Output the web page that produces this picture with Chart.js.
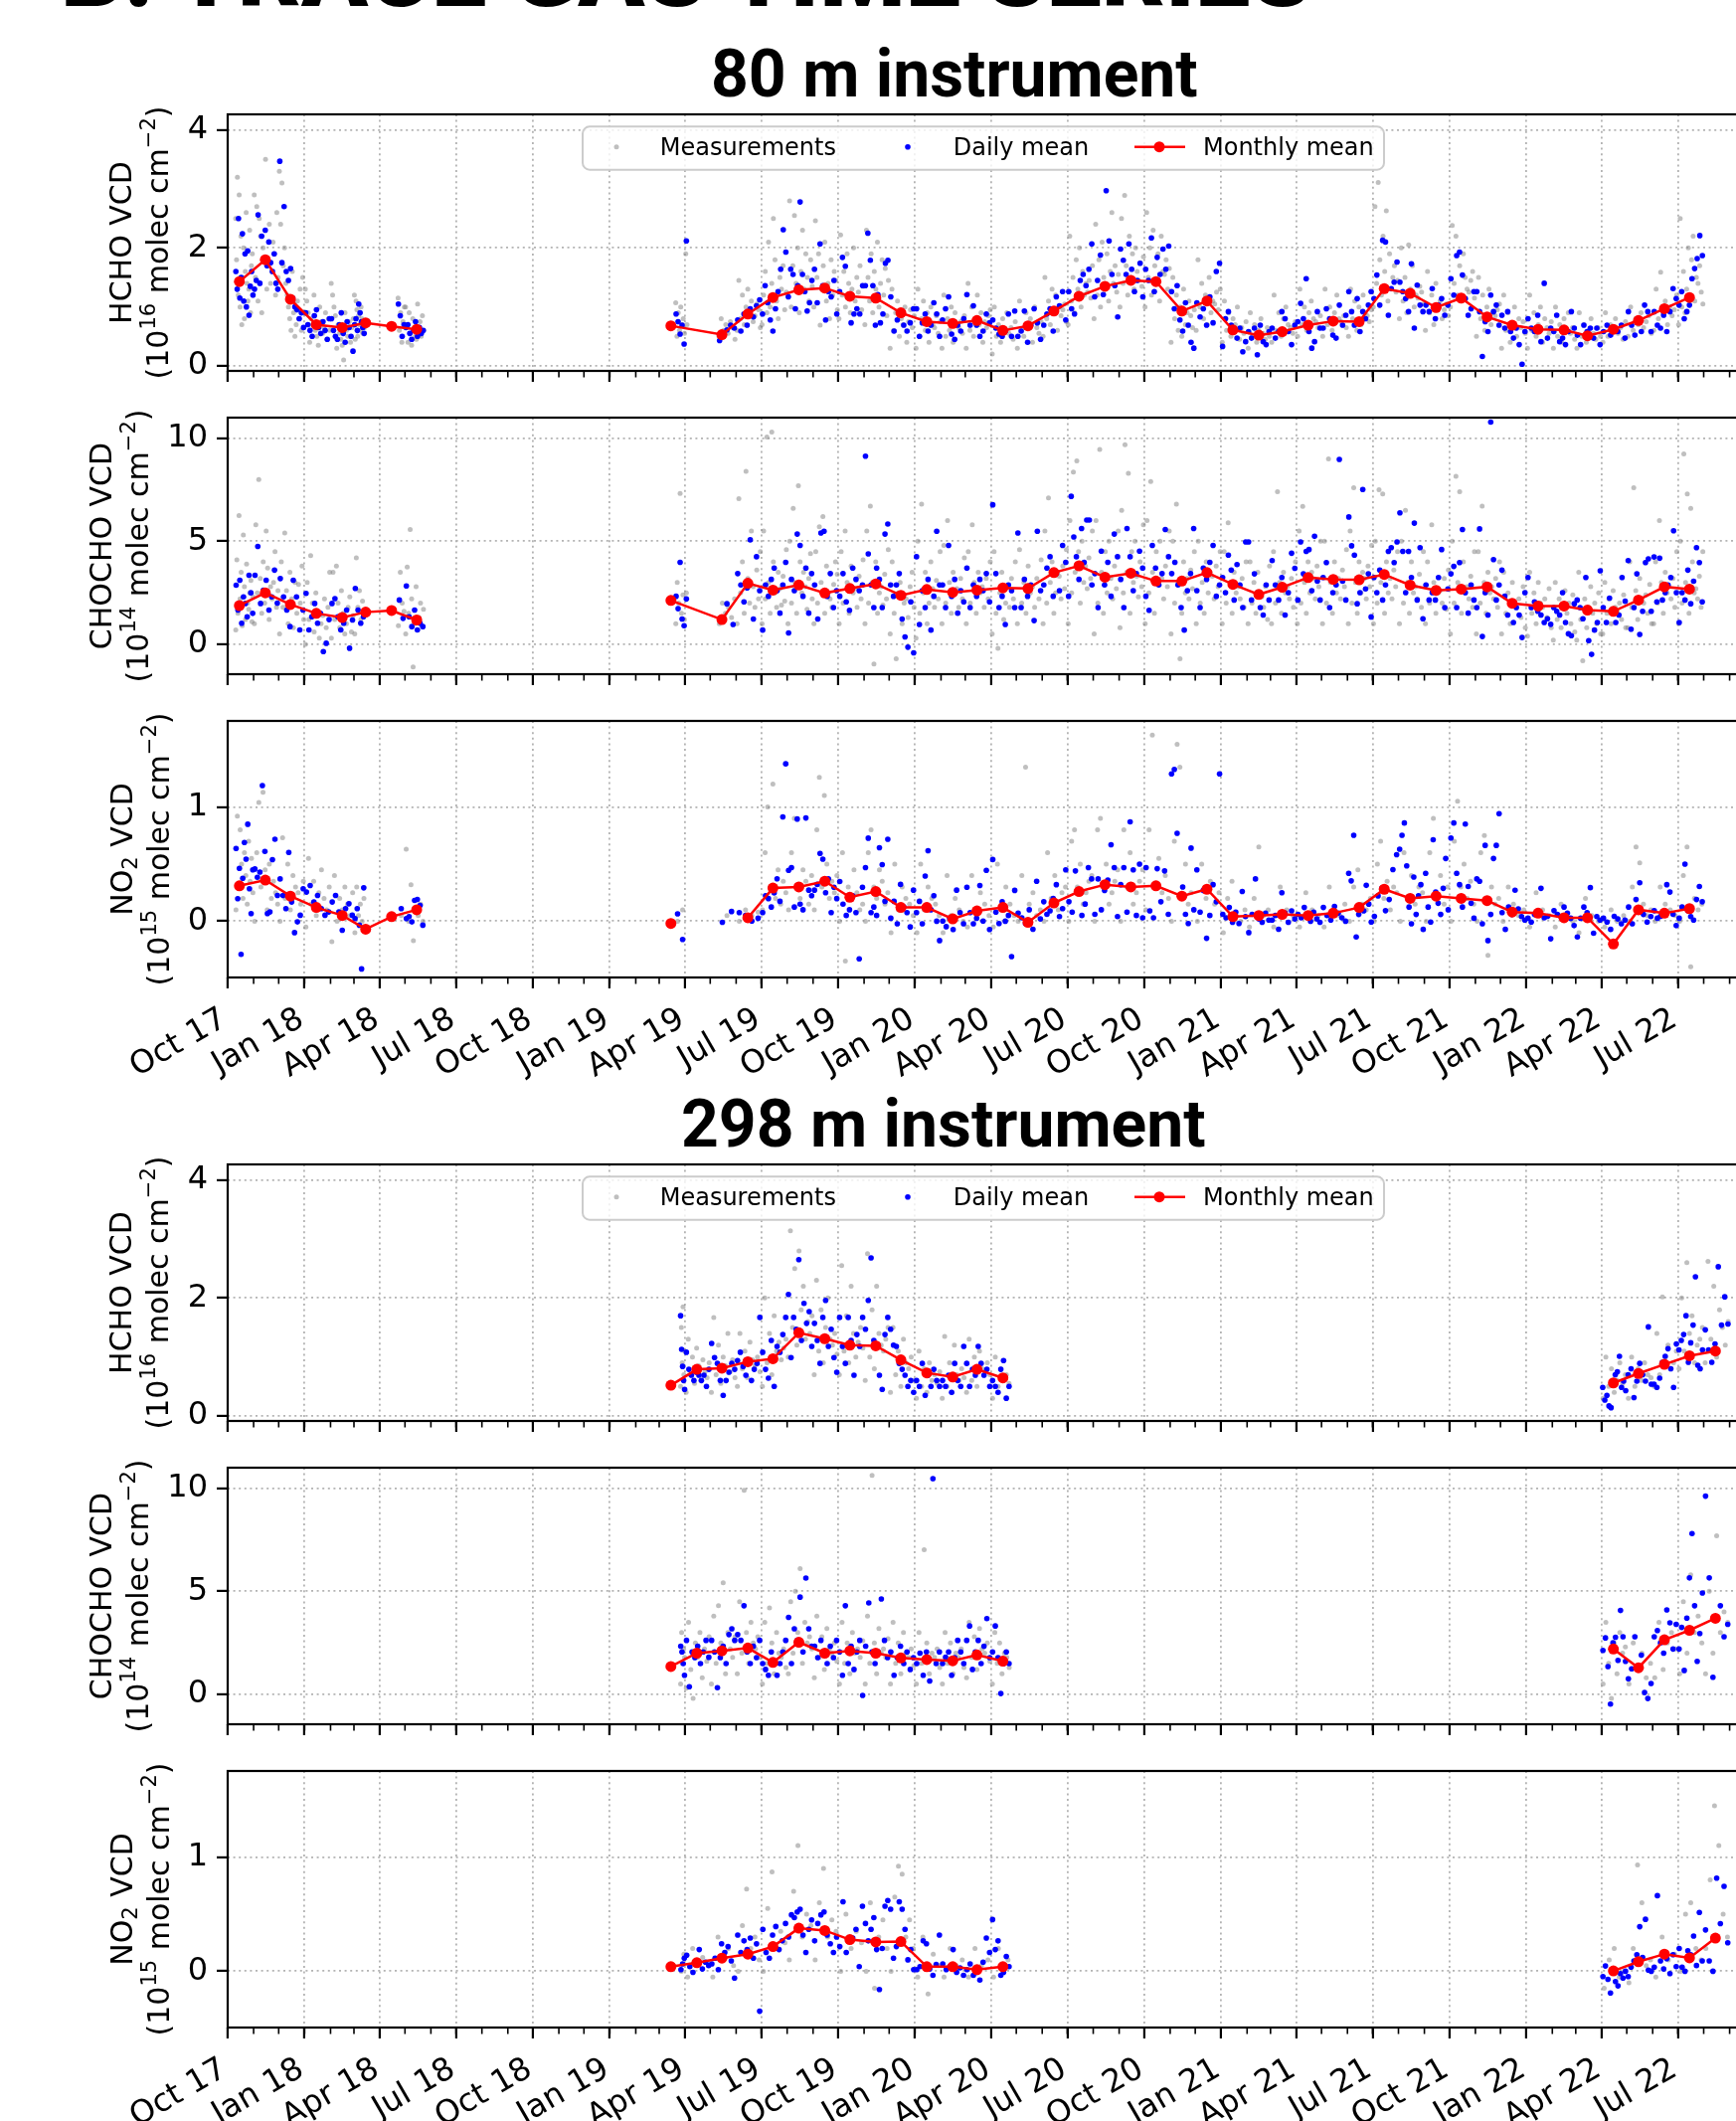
<!DOCTYPE html>
<html>
<head>
<meta charset="utf-8">
<title>Trace gas time series</title>
<script src="https://cdn.jsdelivr.net/npm/chart.js@4.4.1/dist/chart.umd.min.js"></script>
<style>
  html, body { margin: 0; padding: 0; background: #fff; }
  body { width: 1746px; height: 2133px; overflow: hidden; position: relative; }
  .head { position: absolute; white-space: nowrap; font-family: Roboto, sans-serif; color: #000; line-height: 1; }
  .head i { display: inline-block; width: 0; height: 0; }
  canvas { position: absolute; left: 0; }
</style>
</head>
<body>
<div class="head" id="sheet" style="font-weight:900;font-size:84px;">B. TRACE GAS TIME SERIES<i></i></div>
<div class="head" id="t80" style="font-weight:700;font-size:66px;">80 m instrument<i></i></div>
<div class="head" id="t298" style="font-weight:700;font-size:66px;">298 m instrument<i></i></div>
<script>
// ---- axis ticks ----
var tickMonths = ['2017-10','2018-01','2018-04','2018-07','2018-10','2019-01','2019-04','2019-07','2019-10','2020-01','2020-04',
  '2020-07','2020-10','2021-01','2021-04','2021-07','2021-10','2022-01','2022-04','2022-07'];
var tickLabels = ['Oct 17','Jan 18','Apr 18','Jul 18','Oct 18','Jan 19','Apr 19','Jul 19','Oct 19','Jan 20','Apr 20',
  'Jul 20','Oct 20','Jan 21','Apr 21','Jul 21','Oct 21','Jan 22','Apr 22','Jul 22'];
var hchoTicks = [0, 2, 4];
var chochoTicks = [0, 5, 10];
var no2Ticks = [0, 1];

// ---- 80 m instrument ----
// monthly means (plotted on the 15th), null = gap in the line
var months80 = ['2017-10','2017-11','2017-12','2018-01','2018-02','2018-03','2018-04','2018-05','2018-06',
  '2019-03','2019-05','2019-06','2019-07','2019-08','2019-09','2019-10','2019-11','2019-12',
  '2020-01','2020-02','2020-03','2020-04','2020-05','2020-06','2020-07','2020-08','2020-09','2020-10','2020-11','2020-12',
  '2021-01','2021-02','2021-03','2021-04','2021-05','2021-06','2021-07','2021-08','2021-09','2021-10','2021-11','2021-12',
  '2022-01','2022-02','2022-03','2022-04','2022-05','2022-06','2022-07'];
var hcho80Monthly = [1.43,1.80,1.13,0.70,0.65,0.73,0.67,0.62,null,
  0.68,0.53,0.88,1.16,1.29,1.32,1.18,1.15,0.90,
  0.75,0.72,0.77,0.60,0.68,0.93,1.18,1.35,1.45,1.43,0.93,1.10,
  0.61,0.52,0.58,0.69,0.76,0.75,1.31,1.23,0.99,1.15,0.83,0.69,
  0.62,0.61,0.51,0.62,0.77,0.97,1.16];
var chocho80Monthly = [1.88,2.50,1.93,1.50,1.30,1.56,1.64,1.18,null,
  2.13,1.20,2.96,2.63,2.88,2.49,2.71,2.93,2.38,
  2.66,2.52,2.63,2.74,2.71,3.48,3.81,3.26,3.45,3.07,3.07,3.48,
  2.91,2.42,2.77,3.24,3.15,3.13,3.39,2.87,2.62,2.68,2.79,1.99,
  1.86,1.86,1.66,1.60,2.15,2.79,2.68];
var no280Monthly = [0.31,0.36,0.22,0.12,0.05,-0.07,0.04,0.10,null,
  -0.02,null,0.03,0.29,0.30,0.35,0.21,0.26,0.12,
  0.12,0.02,0.09,0.12,-0.01,0.16,0.26,0.32,0.30,0.31,0.22,0.28,
  0.04,0.05,0.06,0.05,0.07,0.12,0.28,0.20,0.22,0.20,0.18,0.08,
  0.07,0.03,0.03,-0.20,0.10,0.07,0.11];

// observing periods: month, first day, last day (whole month when omitted)
var obs80 = [['2017-10',10,31],['2017-11'],['2017-12'],['2018-01'],['2018-02'],['2018-03',1,13],['2018-04',22,30],['2018-05',1,23],
  ['2019-03',20,31],['2019-04',1,3],['2019-05',10,31],['2019-06'],['2019-07'],['2019-08'],['2019-09'],['2019-10'],['2019-11'],['2019-12'],
  ['2020-01'],['2020-02'],['2020-03'],['2020-04'],['2020-05'],['2020-06'],['2020-07'],['2020-08'],['2020-09'],['2020-10'],['2020-11'],['2020-12'],
  ['2021-01'],['2021-02'],['2021-03'],['2021-04'],['2021-05'],['2021-06'],['2021-07'],['2021-08'],['2021-09'],['2021-10'],['2021-11'],['2021-12'],
  ['2022-01'],['2022-02'],['2022-03'],['2022-04'],['2022-05'],['2022-06'],['2022-07']];

// daily means, one row per observing period
var hcho80Daily = [
  [1.6,1.3,2.5,1.15,1.5,2.24,1.1,1.9,1.0,1.95,0.86,1.35,1.6,1.2],
  [1.3,1.45,2.56,1.4,2.2,1.8,2.3,1.7,2.1,1.75,1.6,1.9,1.4,1.3],
  [3.47,1.75,2.7,1.6,1.45,1.65,1.15,1.0,0.95,0.8,0.9,0.65],
  [0.9,0.7,0.6,0.5,0.85,0.95,0.65,0.55,0.75,0.6,0.45,0.8],
  [0.8,0.6,0.5,0.45,0.7,0.9,0.55,0.4,0.75,0.65,0.5,0.25],
  [0.7,0.8,0.6,1.05,0.9,0.75,0.65,0.55],
  [1.05,0.85,0.5,0.7],
  [0.65,0.7,0.55,0.45,0.6,0.75,0.5,0.65,0.55,0.6],
  [0.88,0.75,0.54,0.69,0.37],
  [2.12],
  [0.43,0.5,0.61,0.69,0.64],
  [0.78,0.59,0.88,0.69,0.97,0.83,1.02,1.12],
  [0.88,1.36,1.07,0.78,0.59,0.97,1.26,1.64,2.31,1.93],
  [1.17,1.64,1.55,0.97,1.36,2.78,1.55,1.26,0.93,1.07,1.45],
  [1.64,1.07,2.07,1.36,0.78,1.26,1.17,1.45,0.88],
  [1.26,1.84,1.69,1.17,0.73,0.88,0.97,0.88,1.36],
  [1.36,2.25,1.79,1.36,0.69,1.21,0.73,0.88,1.74,1.79],
  [1.17,0.59,0.78,0.88,0.69,0.59,0.73,0.97],
  [0.97,0.5,0.73,0.88,0.59,0.69,1.07,0.88,0.5],
  [0.78,0.97,1.17,0.54,0.45,0.69,0.59,0.8],
  [1.21,0.69,1.02,0.69,0.5,0.59,0.88,0.73],
  [0.78,0.64,0.54,0.5,0.59,0.88,0.5,0.93],
  [0.5,0.59,0.93,0.4,0.69,0.97,0.73,0.45],
  [0.69,0.88,0.97,0.59,1.17,1.02,1.26,0.78],
  [1.26,0.97,0.88,1.17,1.45,1.55,1.36,1.64,2.07],
  [1.17,1.45,1.88,1.21,2.97,2.12,1.55,1.36,0.83],
  [1.98,1.79,1.55,2.07,1.64,1.26,1.45,1.74,1.17],
  [1.64,1.45,2.17,1.26,1.84,1.55,1.98,1.64,2.03],
  [1.26,0.97,1.36,0.78,0.59,1.07,0.69,0.4,0.3],
  [1.07,0.83,0.97,0.69,1.17,0.73,1.6,1.74],
  [0.33,0.8,0.92,0.69,0.58,0.47,0.64,0.24,0.41],
  [0.58,0.47,0.64,0.19,0.69,0.41,0.36,0.58],
  [0.64,0.47,0.58,0.92,0.8,0.58,0.36,0.69],
  [0.75,1.06,0.8,1.48,0.58,0.3,0.41,0.92,0.64],
  [0.64,0.97,0.8,0.52,0.47,1.03,0.69,0.86],
  [1.26,0.92,0.69,1.14,0.58,0.92,0.8,1.03,1.26],
  [1.14,1.54,1.03,2.13,2.1,0.86,1.31,1.42,1.76],
  [1.42,1.26,1.14,0.92,1.73,0.64,1.37,1.03,0.92],
  [1.03,0.92,1.31,0.8,1.03,1.14,0.86,1.03],
  [1.48,1.2,1.87,1.93,1.54,1.14,0.86,0.97,1.26],
  [1.26,0.92,0.16,0.75,0.58,1.2,0.92,1.03,0.69],
  [0.86,0.64,0.92,0.58,0.47,0.64,0.36,0.03,0.58],
  [0.8,0.64,0.58,0.86,0.41,1.4,0.47,0.64],
  [0.58,0.86,0.41,0.47,0.36,0.58,0.92,0.64],
  [0.52,0.36,0.69,0.58,0.64,0.47,0.64,0.36],
  [0.58,0.69,0.52,0.64,0.58,0.69,0.47],
  [0.92,0.69,0.52,0.8,0.58,1.03,0.92,0.58],
  [0.92,0.69,0.64,0.86,0.58,0.92,1.31,1.14],
  [1.03,1.26,0.8,0.92,1.03,1.48,1.65,1.82,2.21,1.87]];
// single measurements
var hcho80Meas = [
  [2.5,1.8,3.2,1.2,2.9,1.0,2.2,0.7,1.5,2.0,0.8,1.6,2.6,1.4,1.1,1.3,2.3,0.9,1.7,1.9,1.2],
  [2.9,1.5,2.7,1.1,2.5,2.2,0.9,2.0,1.8,3.5,1.3,1.7,2.4,1.4,1.6,2.1,1.9,1.2,2.6,1.5],
  [3.3,2.4,3.1,1.7,2.0,1.4,1.2,1.0,0.8,0.6,1.6,0.9,0.5,0.7,1.1,0.8,1.3,0.6,1.5,0.9],
  [1.3,1.1,0.9,0.4,0.8,0.7,1.2,0.6,0.5,0.35,1.0,0.75,0.55,0.65,0.9,0.45,0.8,0.6],
  [1.4,1.2,1.0,0.85,0.3,0.7,0.55,0.45,0.35,0.1,0.9,0.6,0.5,0.75,0.4,0.65,0.8],
  [1.2,0.45,1.1,0.95,0.5,0.85,0.7,0.6,1.0,0.8,0.55,0.75,0.65],
  [1.15,0.6,0.9,0.4,0.75,1.0],
  [1.0,0.7,0.4,0.9,0.55,0.35,0.8,0.6,0.5,0.45,1.05,0.65,0.75,0.5,0.85,0.6],
  [1.07,0.5,0.9,0.6,1.0,0.7,0.8,0.55],
  [1.9,0.7],
  [0.5,0.8,0.6,0.7,0.55,0.75,0.65,0.45],
  [0.6,1.45,0.8,1.2,0.7,1.0,1.3,0.9,1.1,0.75,0.85,1.05,0.95,0.65],
  [0.7,1.2,1.6,0.9,2.1,1.0,1.4,2.5,1.8,1.1,0.8,1.5,1.3,1.7,0.95,1.25],
  [1.2,2.8,1.0,1.7,2.55,1.4,2.0,0.9,1.6,2.3,1.3,1.9,1.5,1.1,1.8,1.35],
  [1.0,2.46,1.5,1.9,0.69,1.3,1.7,2.1,1.1,1.4,0.8,1.8,1.2,1.6,1.45,0.95],
  [0.8,2.22,1.2,1.6,1.0,1.9,1.4,0.9,1.3,2.0,1.1,1.5,1.25,1.7,0.95,1.35],
  [0.7,2.3,1.5,1.1,1.9,0.9,1.6,1.3,2.1,1.0,1.4,1.8,1.2,1.65,0.85,1.45],
  [0.3,1.3,0.6,0.9,1.1,0.5,0.8,0.7,1.0,0.4,0.75,0.95,0.65,0.85],
  [0.3,1.3,0.5,0.8,1.1,0.6,0.9,0.4,1.0,0.7,0.65,0.85,0.55,0.75],
  [0.3,1.2,0.5,0.8,0.6,1.0,0.4,0.9,0.7,0.65,0.75,0.55,0.85],
  [0.3,1.4,0.6,1.0,0.5,0.8,1.2,0.7,0.9,0.4,0.75,0.65,0.85,0.95],
  [0.2,1.0,0.5,0.7,0.4,0.8,0.6,0.9,0.55,0.65,0.45,0.75],
  [0.3,1.1,0.6,0.5,0.9,0.7,0.8,0.4,1.0,0.65,0.55,0.75],
  [0.5,1.5,0.8,1.1,0.7,1.3,0.9,1.2,0.6,1.0,0.85,0.95,1.05,0.75],
  [0.7,2.2,1.1,1.5,0.9,1.8,1.3,2.0,1.0,1.6,1.2,1.4,1.25,1.45,1.15,1.7],
  [0.8,2.4,1.2,1.8,1.0,2.1,1.5,1.3,1.9,1.1,1.6,2.6,1.4,1.7,1.25,1.55],
  [1.0,2.5,1.4,2.89,1.7,1.2,2.2,1.5,1.9,1.3,2.0,1.6,1.45,1.75,1.35,1.85],
  [1.0,2.6,1.5,2.0,1.2,2.3,1.7,1.4,1.9,1.1,2.2,1.6,1.55,1.8,1.3,1.65],
  [0.4,1.5,0.8,1.2,0.6,1.0,0.5,1.3,0.7,0.9,1.1,0.85,0.65,0.95],
  [0.6,1.8,1.0,1.4,0.8,1.2,0.7,1.5,0.9,1.1,1.05,1.25,0.95,1.3],
  [0.4,1.1,0.6,0.9,0.5,0.8,0.7,1.0,0.45,0.65,0.55,0.75],
  [0.3,0.9,0.5,0.7,0.4,0.6,0.8,0.55,0.45,0.65,0.5],
  [0.4,1.2,0.6,0.9,0.5,0.8,1.0,0.7,0.65,0.55,0.75],
  [0.5,1.3,0.7,1.0,0.6,0.9,1.1,0.8,0.75,0.65,0.85],
  [0.5,1.3,0.7,1.0,0.6,0.9,1.2,0.8,0.75,0.85,0.65],
  [0.5,1.3,0.8,1.1,0.6,1.0,0.7,1.2,0.9,0.85,0.75,0.95],
  [1.0,2.7,1.4,3.11,1.8,1.2,2.2,1.6,2.63,1.1,1.9,1.3,1.5,1.7,1.25,1.45],
  [0.8,2.0,1.1,1.5,0.9,2.05,1.3,1.7,1.0,1.2,1.15,1.35,1.25,1.05],
  [0.6,1.6,0.9,1.2,0.7,1.4,1.0,1.1,0.8,0.95,1.05,0.85],
  [1.0,2.38,1.4,2.2,1.2,1.7,1.1,1.9,1.5,1.3,1.25,1.45,1.6,1.15],
  [0.5,1.5,0.8,1.2,0.6,1.0,1.3,0.7,0.9,0.85,0.95,1.05],
  [0.3,1.2,0.6,0.9,0.4,0.7,1.0,0.5,0.8,0.65,0.75,0.55],
  [0.3,1.2,0.6,0.9,0.5,0.7,1.0,0.4,0.8,0.65,0.55,0.75],
  [0.3,1.0,0.5,0.7,0.4,0.8,0.6,0.9,0.55,0.65,0.45],
  [0.3,0.9,0.5,0.7,0.4,0.6,0.8,0.55,0.45,0.65,0.5],
  [0.4,0.9,0.5,0.7,0.6,0.8,0.55,0.65,0.45,0.75],
  [0.5,1.0,0.6,0.8,0.7,0.9,0.65,0.75,0.85,0.55],
  [0.6,1.3,0.8,1.59,0.9,1.1,0.7,1.0,0.85,0.95,1.2],
  [0.7,2.5,1.0,1.6,0.9,1.3,2.0,1.2,1.8,2.2,1.1,1.5,1.4,1.7,1.25,1.05]];

var chocho80Daily = [
  [2.87,1.66,3.11,1.02,2.3,1.98,1.34,3.35,2.5,1.5],
  [3.35,4.75,1.98,2.63,3.11,1.66,2.3,3.6,2.0],
  [3.19,2.3,1.66,0.86,3.11,2.3,0.7,1.66],
  [2.47,0.7,1.34,1.98,1.02,1.5,-0.35,0.05,1.2],
  [1.98,2.22,1.34,0.7,1.02,1.66,-0.19,1.18],
  [2.71,1.66,1.02,1.34],
  [2.15,1.26],
  [2.83,1.34,0.86,1.66,0.7,1.02,0.86],
  [2.33,1.73,3.98,1.23,0.9],
  [2.2],
  [1.1,1.97,0.96],
  [3.43,2.88,2.06,2.74,5.07,1.23,4.25,2.6],
  [0.69,2.88,2.33,3.15,3.7,2.6,1.51,2.88,3.98],
  [0.55,3.15,2.6,5.35,4.8,2.33,3.7,1.51,3.43],
  [2.88,1.23,5.4,5.49,2.33,3.43,1.78,2.6],
  [2.33,3.43,2.06,1.65,3.7,3.15,2.6,2.88],
  [9.13,4.39,2.88,1.78,3.7,3.15,1.78,5.35,5.84],
  [2.88,2.33,2.88,3.43,1.23,0.36,-0.14,2.06,-0.41],
  [4.25,0.96,2.6,1.78,3.15,0.69,2.33,5.49,2.88],
  [2.88,1.78,4.8,2.33,3.15,1.51,2.6,2.06],
  [3.7,1.78,2.88,2.33,3.15,2.6,3.43,2.06],
  [6.77,3.43,1.78,2.33,0.96,2.88,2.6,1.78],
  [5.4,1.78,3.15,2.33,2.88,1.15,5.49,2.6],
  [2.88,3.7,4.25,2.33,3.43,2.6,4.8,3.98],
  [2.33,7.18,5.21,4.25,3.15,5.62,3.98,6.03,6.03,2.88],
  [3.43,1.78,4.52,2.88,3.98,2.33,5.35,4.25],
  [3.15,1.78,5.62,4.25,2.6,3.43,4.52,3.7],
  [2.33,1.65,4.8,3.7,2.88,3.43,5.57,4.25],
  [3.43,3.98,2.88,1.78,0.69,2.6,3.43,5.62],
  [2.6,1.78,3.7,3.15,3.98,4.8,2.33,2.88],
  [3.24,2.51,4.33,3.6,2.15,3.87,2.88,1.78,4.97],
  [4.97,2.15,3.42,2.51,1.78,1.42,2.88,2.15],
  [4.06,2.88,2.15,3.24,1.42,2.51,4.42,3.69],
  [2.15,4.97,3.42,4.51,4.6,2.6,5.24,3.06,2.15],
  [3.24,3.97,1.78,2.51,2.88,8.97,3.06,2.15],
  [6.18,4.78,4.33,1.97,2.51,7.51,2.69,3.42,1.33],
  [3.24,2.51,3.6,2.15,2.88,4.51,4.69,3.97,4.97],
  [6.38,4.51,2.51,4.51,3.24,5.88,2.15,4.69,1.24],
  [2.88,2.15,2.51,2.15,3.24,4.6,1.78,2.69],
  [3.42,3.78,1.78,3.97,5.57,2.51,1.51,2.88,2.15],
  [1.78,5.6,0.38,2.51,1.42,10.78,4.11,2.15,2.88],
  [3.6,2.33,1.42,2.06,1.06,1.78,1.42,0.33,2.51],
  [3.24,1.78,2.06,1.6,1.42,1.06,1.24,0.97],
  [1.78,1.6,1.42,2.51,1.06,0.51,0.42,1.97],
  [2.15,1.78,1.24,3.24,0.18,-0.49,0.69,1.06,3.57],
  [1.78,1.06,2.24,1.6,1.06,1.42,3.24,2.09],
  [4.06,0.73,1.78,3.42,0.48,1.6,3.97,4.15,1.6],
  [4.24,2.06,4.18,2.15,2.51,2.88,3.24,5.51,2.51],
  [1.06,2.51,2.15,3.6,1.97,3.06,4.69,3.97,2.06]];
var chocho80Meas = [
  [0.7,4.1,1.5,6.25,2.2,3.5,0.9,5.3,2.8,1.2,3.9,2.0,1.7,2.5,3.1,1.1,2.3],
  [1.0,5.8,2.5,8.0,3.2,1.5,4.0,2.0,5.5,3.7,1.2,2.8,2.2,3.0,4.5,1.8,2.6],
  [0.5,4.0,1.8,5.4,2.6,1.0,3.5,2.2,0.8,3.0,1.5,2.9,2.0,3.8,1.2],
  [0.0,3.0,1.2,4.3,2.0,0.6,2.5,1.6,0.3,1.0,1.4,2.2,0.8,1.8,3.5],
  [0.3,3.5,1.2,3.8,2.0,0.8,2.6,1.5,0.5,1.0,1.8,2.3,0.6,1.4],
  [0.5,4.19,1.8,2.6,1.2,2.1,1.5],
  [0.9,3.5,2.0,1.6],
  [0.5,3.75,1.5,5.57,2.2,-1.1,1.0,2.8,0.7,1.3,2.0,0.9,1.7],
  [1.0,3.0,2.0,7.32,1.5,2.4,1.2],
  [2.5],
  [1.0,2.0,1.5,1.8,1.3,2.2],
  [1.0,7.07,2.5,4.0,1.5,8.4,3.2,2.0,5.5,2.8,1.8,3.6,2.2,4.5],
  [1.0,5.5,2.2,10.06,3.0,1.5,10.3,4.0,2.5,1.8,3.5,2.7,1.9,3.3,2.1,4.6],
  [1.0,5.0,2.0,6.6,3.0,1.5,7.7,4.0,2.5,3.5,2.8,1.7,3.2,4.4,2.2],
  [1.0,4.5,2.0,5.7,3.0,6.2,1.5,3.8,2.5,2.2,1.8,2.9,4.0,3.4],
  [1.0,4.5,2.0,5.5,3.0,1.5,3.8,2.5,2.7,1.8,3.3,2.2,4.1],
  [1.0,5.5,2.0,6.7,3.0,-0.96,4.0,1.5,2.5,2.8,1.9,3.4,2.2,4.6],
  [0.5,4.0,1.5,-0.7,2.5,3.0,1.0,2.0,2.2,1.3,2.8,3.5,1.8],
  [0.3,5.0,1.5,6.8,2.5,3.5,1.0,2.0,4.0,2.7,1.8,3.1,2.2,4.5],
  [1.0,4.8,2.0,6.0,3.0,1.5,3.5,2.5,2.7,1.8,3.2,2.2,4.2],
  [1.0,4.5,2.0,5.8,3.0,1.5,3.5,2.5,2.8,1.8,3.2,2.2,4.0],
  [0.5,4.5,1.5,-0.2,2.5,3.5,1.2,2.0,2.8,1.8,3.2,2.2,4.0],
  [1.0,4.6,2.0,3.0,1.5,3.8,2.5,2.8,1.8,3.2,2.2,4.1],
  [1.0,5.5,2.0,7.1,3.0,4.0,1.5,2.5,3.5,3.3,2.2,3.8,2.7,4.6],
  [1.0,6.0,2.5,8.36,3.5,8.9,4.5,2.0,5.0,3.0,3.8,2.7,4.2,3.2,5.5],
  [0.5,6.0,2.0,9.46,3.5,1.5,4.5,2.5,5.0,3.2,2.2,3.8,2.7,5.5],
  [0.8,6.5,2.5,9.68,3.5,8.3,1.5,4.5,3.0,5.0,3.3,2.3,4.0,2.8,5.8],
  [1.0,6.0,2.5,7.9,3.5,1.5,4.5,3.0,5.0,3.2,2.2,3.8,2.8,5.5],
  [0.5,5.0,2.0,6.8,3.0,-0.7,1.5,4.0,2.5,3.2,2.2,3.6,2.7,4.5],
  [1.0,5.0,2.0,3.0,1.5,4.0,2.5,3.5,3.3,2.2,3.8,2.8,4.5],
  [1.0,4.5,2.0,5.9,3.0,1.5,3.5,2.5,2.8,2.2,3.2,1.8,4.0],
  [1.0,4.0,2.0,3.0,1.5,3.5,2.5,2.3,1.8,2.8,1.2,3.8],
  [1.0,4.5,2.0,7.4,3.0,1.5,3.5,2.5,2.8,2.2,3.2,1.8,4.0],
  [1.0,5.5,2.0,6.69,3.0,1.5,4.0,2.5,3.5,3.2,2.2,3.8,2.8,5.0],
  [1.0,5.0,2.0,9.0,3.0,1.5,4.0,2.5,3.2,2.2,3.6,2.8,4.6],
  [1.0,5.5,2.0,7.6,3.0,1.5,4.0,2.5,3.5,3.2,2.2,3.8,2.8,4.8],
  [1.0,5.0,2.0,7.5,3.0,7.3,1.5,4.0,2.5,3.2,2.2,3.6,2.8,4.5],
  [1.0,5.0,2.0,6.5,3.0,1.5,4.0,2.5,2.8,2.2,3.4,1.8,4.5],
  [1.0,4.0,2.0,5.8,3.0,1.5,2.5,2.6,2.0,3.2,1.7,3.6],
  [0.5,5.0,2.0,8.15,3.0,7.4,1.5,4.0,2.5,2.8,2.2,3.3,1.8,4.5],
  [0.5,4.5,2.0,6.7,3.0,1.5,3.5,2.5,2.8,2.2,3.2,1.8,4.0],
  [0.5,3.5,1.5,2.5,1.0,3.0,2.0,1.8,2.2,1.3,2.8,0.8],
  [0.4,3.5,1.5,2.5,1.0,3.0,2.0,1.8,2.2,1.3,2.7,0.8],
  [0.2,3.0,1.2,2.2,0.8,1.8,2.6,1.5,2.0,1.0,2.4,0.6],
  [0.2,3.5,1.2,-0.8,2.2,0.8,1.8,2.8,1.5,2.0,1.0,2.5,0.5],
  [0.5,3.0,1.5,2.2,1.0,2.6,1.8,1.6,2.0,1.2,2.4,0.8],
  [0.8,4.0,1.8,7.6,2.6,1.2,3.2,2.2,2.0,2.4,1.5,2.9,1.0],
  [1.0,4.0,2.0,6.0,3.0,1.5,3.5,2.5,2.8,2.2,3.2,1.8,4.5],
  [1.0,5.0,2.0,9.24,3.0,7.3,1.5,6.6,4.0,2.5,2.7,2.2,3.3,1.8,4.5]];

var no280Daily = [
  [0.637,0.197,0.463,-0.29,0.376,0.689,0.544,0.849,0.284,0.066,0.45],
  [0.457,0.385,0.43,1.188,0.611,0.066,0.081,0.539,0.718,0.226],
  [0.37,0.226,0.11,0.602,0.168,-0.1,-0.006,0.052,0.284],
  [0.255,0.313,0.168,0.226,0.11,0.052,0.081],
  [0.168,0.226,0.081,-0.079,0.11,0.153,0.052],
  [0.023,0.11,-0.035,-0.418,0.292],
  [0.11],
  [0.023,0.04,-0.006,0.182,0.191,0.139,-0.035],
  [0.065,-0.16],
  [],
  [-0.009,0.085],
  [0.075,0.05,0.001,0.026],
  [0.075,0.223,0.198,0.124,0.248,0.371,0.174,0.914,1.378],
  [0.445,0.47,0.124,0.895,0.149,0.1,0.904,0.272,0.223],
  [0.272,0.322,0.594,0.544,0.25,0.371,0.075,0.297,0.198],
  [0.347,0.149,0.05,0.1,0.223,0.075,-0.33,0.297],
  [0.47,0.727,0.075,0.124,0.05,0.643,0.495,0.174,0.717],
  [0.026,0.174,-0.023,0.322,0.124,0.075,-0.05,0.272],
  [0.075,0.174,-0.023,0.396,0.618,0.1,0.223,0.0,-0.17],
  [0.001,-0.048,0.026,-0.073,0.272,0.075,-0.023],
  [0.297,0.075,-0.023,0.026,0.312,0.001,0.445,-0.073],
  [0.54,0.08,-0.02,0.17,0.0,0.05,-0.31,0.27],
  [0.07,0.03,-0.02,0.1,-0.07,0.35,0.02],
  [0.17,0.06,0.09,0.2,0.32,0.04,0.11,0.45],
  [0.17,0.08,0.44,0.27,0.05,0.15,0.47,0.37],
  [0.06,0.37,0.1,0.27,0.36,0.67,0.47,0.04],
  [0.32,0.47,0.08,0.87,0.45,0.05,0.5,0.03],
  [0.47,0.09,0.03,0.46,0.17,0.44,0.06],
  [1.29,1.33,0.77,0.22,0.3,0.06,-0.02,0.64,0.1],
  [0.45,0.08,0.27,-0.15,0.05,0.32,0.17,1.29],
  [0.06,0.03,0.12,-0.01,0.08,-0.02,0.26,0.04],
  [-0.1,0.06,0.37,0.02,-0.01,0.07,0.01],
  [0.01,0.05,-0.07,0.25,0.07,-0.01,0.09,0.02],
  [0.06,0.03,0.12,0.04,0.0,0.08,0.02,-0.01],
  [0.12,0.05,0.01,0.13,0.07,0.03,0.0],
  [0.419,0.353,0.752,-0.138,0.059,0.124,0.09,0.314,0.15,-0.007],
  [0.042,0.222,0.288,0.092,0.19,0.452,0.582],
  [0.631,0.752,0.86,0.484,0.124,-0.023,0.386,0.059,0.222,0.32,-0.072],
  [0.419,0.124,-0.007,0.713,0.255,0.157,0.059,0.288,0.549,0.1],
  [0.729,0.86,0.419,0.32,0.124,0.85,0.304,0.157,0.026],
  [0.37,0.35,-0.023,0.664,-0.17,0.059,0.549,0.664,0.942],
  [0.075,-0.072,0.124,0.059,0.271,0.108,0.04,0.01],
  [0.026,-0.007,0.059,0.08,0.288,0.03,0.042,-0.154],
  [0.092,0.059,0.042,0.124,0.07,0.026,-0.039],
  [-0.138,0.026,0.124,0.075,0.294,-0.105,0.04,0.01],
  [0.026,-0.007,-0.072,0.042,0.02,-0.023,0.01],
  [0.124,-0.023,0.19,0.337,0.059,-0.007,0.04],
  [0.092,0.026,0.042,0.075,0.32,0.255,0.06,-0.039],
  [0.026,0.124,0.5,0.092,0.04,0.01,0.19,0.304,0.17]];
var no280Meas = [
  [0.1,0.92,0.3,0.8,0.5,0.2,0.6,0.4,0.15,0.7,0.35,0.55,0.25],
  [0.0,0.6,1.04,0.3,1.13,0.45,0.1,0.5,0.2,0.35,0.25,0.15],
  [0.0,0.73,0.2,0.5,0.1,0.4,0.3,0.25,0.15,0.35],
  [-0.05,0.55,0.15,0.35,0.05,0.25,0.45,0.2,0.1,0.3],
  [-0.18,0.4,0.0,0.2,0.1,0.3,0.15,0.05,0.25],
  [-0.1,0.3,0.05,0.15,0.0,0.2],
  [0.05],
  [0.63,0.0,0.32,-0.17,0.1,0.05,0.15,0.0],
  [0.0,0.1],
  [],
  [0.05],
  [0.0,0.1,0.05,0.08],
  [0.1,0.6,1.0,0.3,1.2,0.2,0.45,0.15,0.35,0.25],
  [0.1,0.6,0.9,0.3,0.2,0.45,0.35,0.15,0.4],
  [0.1,0.8,1.26,0.3,1.1,0.5,0.2,0.35,0.25,0.4],
  [0.0,0.6,-0.35,0.3,0.2,0.45,0.25,0.1,0.15],
  [0.0,0.6,0.8,0.3,0.2,0.45,0.35,0.15,0.25],
  [-0.1,0.5,0.1,0.3,0.2,0.15,0.05],
  [-0.1,0.5,0.1,0.3,0.2,0.15,0.05],
  [-0.1,0.4,0.05,0.2,0.1,0.0],
  [-0.05,0.4,0.1,0.25,0.15,0.05],
  [-0.05,0.5,0.1,0.3,0.15,0.05],
  [0.0,0.4,1.35,0.15,0.25,0.05,0.1],
  [0.0,0.6,0.2,0.4,0.1,0.25,0.3],
  [0.0,0.7,0.8,0.3,0.5,0.15,0.25,0.35,0.4],
  [0.0,0.8,0.9,0.3,0.5,0.15,0.25,0.35,0.45],
  [0.0,0.8,0.3,0.6,0.15,0.25,0.35,0.45],
  [0.1,0.8,1.63,0.3,0.55,0.25,0.4,0.2],
  [0.0,0.7,1.55,1.35,0.3,0.5,0.15,0.25,0.1],
  [0.0,0.5,0.2,0.35,0.15,0.25],
  [-0.1,0.2,0.35,0.05,0.0,0.1],
  [-0.05,0.2,0.65,0.05,0.1],
  [-0.05,0.3,0.1,0.05],
  [-0.05,0.25,0.1,0.05],
  [-0.05,0.3,0.1,0.05,0.15],
  [0.0,0.3,0.45,0.15,0.1,0.2],
  [0.0,0.5,0.7,0.2,0.35,0.1,0.3,0.25],
  [0.0,0.6,0.2,0.4,0.15,0.3,0.25],
  [0.0,0.6,0.9,0.2,0.4,0.15,0.3],
  [0.0,0.7,1.05,0.3,0.5,0.2,0.35,0.15],
  [0.0,0.6,0.75,-0.3,0.3,0.15,0.2],
  [0.0,0.3,0.15,0.05,0.1],
  [-0.05,0.25,0.1,0.05],
  [-0.05,0.15,0.05,0.0],
  [-0.1,0.2,0.05,0.0],
  [-0.05,0.1,0.0,0.05],
  [0.0,0.3,0.65,0.51,0.15,0.05,0.1],
  [0.0,0.3,0.15,0.1,0.05],
  [0.0,0.4,0.65,-0.4,0.2,0.1,0.15]];

// ---- 298 m instrument ----
var months298 = ['2019-03','2019-04','2019-05','2019-06','2019-07','2019-08','2019-09','2019-10','2019-11','2019-12',
  '2020-01','2020-02','2020-03','2020-04','2020-05','2022-04','2022-05','2022-06','2022-07','2022-08'];
var hcho298Monthly = [0.52,0.79,0.81,0.92,0.97,1.41,1.31,1.20,1.19,0.95,0.73,0.66,0.79,0.645,null,0.56,0.72,0.875,1.02,1.10];
var chocho298Monthly = [1.35,2.0,2.11,2.25,1.55,2.53,2.0,2.11,2.0,1.77,1.69,1.63,1.91,1.61,null,2.20,1.29,2.65,3.11,3.69];
var no2298Monthly = [0.04,0.075,0.115,0.15,0.216,0.377,0.357,0.277,0.257,0.26,0.04,0.04,0.014,0.04,null,0.003,0.084,0.15,0.117,0.29];

var obs298 = [['2019-03',26,31],['2019-04'],['2019-05'],['2019-06'],['2019-07'],['2019-08'],['2019-09'],['2019-10'],['2019-11'],['2019-12'],
  ['2020-01'],['2020-02'],['2020-03'],['2020-04',1,23],['2022-04'],['2022-05'],['2022-06'],['2022-07'],['2022-08']];

var hcho298Daily = [
  [1.70,1.13,0.84,0.6,0.45],
  [1.08,0.79,0.69,0.6,0.74,0.69,0.6,0.69,0.5,0.79],
  [1.23,0.99,0.89,0.6,0.35,0.6,0.74,0.89,0.79],
  [0.94,1.08,0.84,0.69,0.94,0.6,0.79,0.89,1.67],
  [1.08,0.79,0.64,1.28,0.5,1.18,1.08,1.38,1.67],
  [2.06,0.99,1.67,1.47,2.65,1.28,1.91,1.57,1.77,1.18],
  [1.57,1.28,0.89,1.67,1.96,1.18,1.47,0.99,0.74],
  [1.67,1.18,0.89,1.67,1.28,0.69,1.38,1.18,1.67],
  [1.47,1.96,2.68,1.28,1.18,0.69,0.45,1.38,1.67],
  [1.47,1.2,1.18,0.89,0.79,0.69,0.5,0.6,0.4],
  [0.6,0.5,0.89,0.35,0.69,0.5,0.79,0.6,0.5],
  [0.6,0.5,0.69,0.4,0.89,0.6,0.5,1.18],
  [0.89,0.5,0.79,0.69,1.18,0.89,0.69,0.79,0.5],
  [0.6,0.5,0.4,0.79,0.94,0.3,0.5],
  [0.485,0.27,0.35,0.17,0.14,0.59,0.7,0.75,1.01,0.485,0.59,0.43],
  [0.7,0.8,0.31,0.59,0.89,0.7,0.59,1.51,0.54],
  [0.54,0.485,0.64,0.91,1.01,1.14,0.8,0.485,1.22],
  [1.12,1.28,1.38,1.7,0.91,1.24,1.54,2.36,0.86,0.8,1.12],
  [1.46,1.12,0.91,1.22,2.53,1.54,2.02,1.56]];
var hcho298Meas = [
  [0.5,1.5,0.9,1.85,0.7,1.1],
  [0.4,1.3,0.7,1.0,0.55,1.15,0.85,0.6,0.95,0.75,0.65,0.9],
  [0.4,1.67,0.7,1.2,0.55,1.0,0.85,1.4,0.75,0.95,0.65],
  [0.5,1.4,0.8,1.1,0.65,1.25,0.95,0.85,1.0,0.75],
  [0.5,2.0,0.9,1.4,0.7,1.7,1.1,1.25,0.95,1.15,1.3],
  [1.0,3.14,1.5,2.5,1.2,2.8,1.8,2.2,1.3,1.6,1.4,1.7],
  [0.7,2.3,1.1,1.8,0.9,1.5,2.0,1.3,1.2,1.4,1.05],
  [0.7,2.55,1.1,1.7,0.9,2.2,1.4,1.0,1.25,1.5,1.15],
  [0.6,2.75,1.0,1.8,0.8,2.2,1.4,1.2,1.1,1.3,1.5],
  [0.4,1.5,0.7,1.1,0.5,1.3,0.9,0.8,1.0,0.6],
  [0.3,1.1,0.5,0.8,0.4,0.9,0.6,0.7,0.55,0.75],
  [0.3,1.35,0.5,0.9,0.4,1.2,0.7,0.6,0.8,0.65],
  [0.4,1.3,0.6,1.0,0.5,1.1,0.8,0.75,0.9,0.7],
  [0.3,1.0,0.5,0.8,0.6,0.7,0.55],
  [0.3,1.0,0.5,0.8,0.4,0.6,0.9,0.55,0.7],
  [0.3,1.0,0.5,0.8,0.6,0.9,0.7,0.65],
  [0.5,1.4,0.7,2.02,1.0,1.2,0.8,0.9,1.1],
  [0.8,2.0,1.1,2.6,1.4,1.7,0.9,1.2,1.3,1.5],
  [0.9,2.62,1.3,2.2,1.0,1.8,1.5,1.2,1.6]];

var chocho298Daily = [
  [2.34,2.06,1.49,0.93],
  [2.62,0.37,2.06,1.78,2.34,1.49,2.06,2.62,1.8],
  [2.62,2.06,0.32,1.78,2.34,1.49,2.9,3.18,2.62],
  [2.9,2.62,4.3,2.06,1.49,2.34,1.78,2.62],
  [1.49,1.21,0.93,2.06,1.5,0.93,1.49,2.06,2.62],
  [3.74,1.49,3.18,2.62,4.72,2.06,5.64,3.18,2.34],
  [2.34,1.78,2.62,2.06,1.49,2.34,1.78,2.62],
  [2.06,0.93,4.3,1.49,2.34,1.21,2.06,2.62,-0.05],
  [2.34,4.44,2.06,1.49,2.06,4.63,2.62,1.78],
  [2.06,0.93,1.78,2.34,1.49,2.06,1.21,1.78],
  [1.49,2.0,0.93,2.06,0.65,10.47,1.49,2.06],
  [1.49,1.8,2.06,0.93,1.78,2.62,2.06,1.49],
  [2.62,3.32,1.21,2.06,2.62,1.49,2.34,3.68,1.78],
  [2.06,3.32,1.78,0.04,1.49,2.06,1.49],
  [2.13,2.74,1.35,-0.47,2.5,2.77,1.65,4.07,2.8,1.6],
  [0.76,1.24,2.8,1.27,1.9,0.09,-0.2,0.53],
  [2.8,3.1,2.5,2.0,4.1,3.47,2.2,3.4],
  [2.2,3.25,1.16,3.7,5.65,7.8,4.3,1.6,2.95,4.92],
  [9.62,5.65,0.83,3.7,4.3,2.8,3.4]];
var chocho298Meas = [
  [0.5,3.0,1.5,2.2,1.8],
  [0.3,3.5,1.2,-0.2,2.5,1.8,3.0,0.8,2.2,1.6,2.8],
  [0.5,3.8,1.5,4.3,2.5,5.42,1.0,3.0,2.2,1.8,2.8],
  [1.0,4.5,2.0,9.9,3.0,1.5,3.5,2.5,2.2,2.8,1.8],
  [0.5,3.5,1.5,4.2,2.5,1.0,3.0,2.0,1.8,2.2,1.3],
  [1.0,4.5,2.0,5.0,3.0,6.1,1.5,3.5,2.5,2.8,2.2],
  [0.8,3.8,1.8,2.8,1.2,3.2,2.2,2.0,2.5,1.6],
  [0.5,3.5,1.5,2.5,1.0,3.0,2.0,2.2,1.8,2.6],
  [0.5,3.8,1.5,10.63,2.5,1.0,3.2,2.0,2.2,1.8,2.7],
  [0.5,3.5,1.5,2.5,1.0,3.0,2.0,1.8,2.2,1.4],
  [0.5,3.0,1.5,7.02,2.5,1.0,2.0,1.8,2.2,1.3],
  [0.5,3.0,1.5,2.5,1.0,2.0,1.8,2.2,1.3],
  [0.8,3.5,1.8,2.8,1.2,3.2,2.2,2.0,2.5,1.6],
  [0.5,3.0,1.5,2.5,1.0,2.0,1.8,1.3],
  [0.5,3.5,1.5,-0.2,2.5,1.0,3.0,2.0,2.3],
  [0.5,2.5,1.2,2.0,0.8,1.5],
  [0.8,3.5,1.2,2.5,3.0,2.2],
  [1.0,4.5,2.0,5.8,3.0,3.8,2.5],
  [1.0,5.0,2.0,7.7,3.0,4.0,3.5]];

var no2298Daily = [
  [0.014,0.064,0.115],
  [0.14,0.04,-0.01,0.064,0.19,0.02,0.08,0.05],
  [0.064,0.115,0.014,0.241,0.165,0.216,0.09,-0.06],
  [0.317,0.165,0.266,0.19,0.291,0.115,0.24,-0.35],
  [0.367,0.165,0.115,0.317,0.392,0.19,0.266,0.418],
  [0.3,0.494,0.469,0.519,0.544,0.317,0.165,0.367,0.45],
  [0.266,0.418,0.494,0.519,0.317,0.241,0.165,0.3],
  [0.216,0.609,0.165,0.266,0.291,0.367,0.04,0.569],
  [0.418,0.266,0.367,0.469,0.19,-0.16,0.2,0.569,0.62],
  [0.544,0.115,0.216,0.609,0.544,0.367,0.1,0.19,0.014],
  [0.014,0.04,0.266,0.241,0.02,-0.036,0.06,0.317],
  [0.064,0.014,0.04,0.19,-0.01,0.03,-0.036],
  [0.014,0.064,-0.036,-0.01,-0.077,0.08,0.291,0.165],
  [0.453,0.19,0.266,-0.036,-0.01,0.13,0.04],
  [-0.046,0.046,-0.07,-0.19,0.01,-0.09,-0.128,-0.02,-0.06,0.0],
  [-0.046,0.036,0.09,0.145,0.39,0.12,0.455,0.01,0.0],
  [0.036,0.662,0.09,0.02,0.11,-0.02,0.145,0.04],
  [0.2,0.036,0.0,0.18,0.145,0.308,0.05,0.515,0.09],
  [0.362,0.09,0.0,0.815,0.417,0.744,0.25]];
var no2298Meas = [
  [0.0,0.15],
  [-0.05,0.2,0.05,0.12,0.08],
  [-0.05,0.3,0.1,0.2,0.05],
  [0.0,0.4,0.72,0.2,0.3,0.1],
  [0.0,0.55,0.87,0.2,0.35,0.25],
  [0.1,0.7,1.1,0.3,0.5,0.4],
  [0.1,0.6,0.9,0.3,0.45,0.35],
  [0.0,0.5,0.2,0.35,0.25],
  [0.0,0.6,-0.15,0.3,0.45,0.2],
  [0.0,0.65,0.92,0.85,0.3,0.45,0.2],
  [-0.05,0.3,-0.2,0.15,0.05],
  [-0.05,0.2,0.05,0.1],
  [-0.05,0.2,0.05,0.1],
  [-0.05,0.2,0.05,0.1],
  [-0.15,0.1,0.2,-0.05,0.0],
  [-0.1,0.2,0.93,0.6,0.05,0.1],
  [-0.05,0.3,0.1,0.15],
  [0.0,0.5,0.6,0.2,0.1],
  [0.2,0.8,1.45,1.1,0.5,0.3]];

// ---- helpers ----
var T0 = Date.UTC(2017, 9, 1);
function day(ym, d) {
  var p = ym.split('-');
  return (Date.UTC(+p[0], +p[1] - 1, d) - T0) / 864e5;
}
function monthLen(ym) {
  var p = ym.split('-');
  return new Date(Date.UTC(+p[0], +p[1], 0)).getUTCDate();
}
// spread the values of each observing period over its days
function spread(periods, rows) {
  var pts = [];
  periods.forEach(function(p, i) {
    var from = p[1] || 1, to = p[2] || monthLen(p[0]);
    var vals = rows[i], span = to - from + 1;
    vals.forEach(function(v, j) {
      pts.push({ x: day(p[0], from) + (j + 0.5) * span / vals.length, y: v });
    });
  });
  return pts;
}
function monthly(months, vals) {
  return months.map(function(m, i) { return { x: day(m, 15), y: vals[i] }; });
}

var minorDays = [];
for (var k = 0; k < 60; k++) {
  var yy = 2017 + Math.floor((9 + k) / 12), mm = (9 + k) % 12 + 1;
  minorDays.push(day(yy + '-' + (mm < 10 ? '0' : '') + mm, 1));
}

var LEFT = 229, RIGHT = 1768, PAD = 12, PLOT_H = 258;
var XMAX = (RIGHT - LEFT) / 0.8441;
var GRID = '#b3b3b3';
var SUP = '\u22122';

function drawRich(ctx, parts, size) {
  function font(m) { return (m ? Math.round(size * 0.7) : size) + 'px "DejaVu Sans"'; }
  var w = 0;
  parts.forEach(function(p) { ctx.font = font(p[1]); w += ctx.measureText(p[0]).width; });
  var x = -w / 2;
  ctx.textAlign = 'left';
  ctx.textBaseline = 'alphabetic';
  parts.forEach(function(p) {
    ctx.font = font(p[1]);
    var dy = p[1] === 1 ? -0.42 * size : (p[1] === 2 ? 0.17 * size : 0);
    ctx.fillText(p[0], x, dy);
    x += ctx.measureText(p[0]).width;
  });
}

function roundRect(ctx, x, y, w, h, r) {
  ctx.beginPath();
  ctx.moveTo(x + r, y);
  ctx.lineTo(x + w - r, y); ctx.arcTo(x + w, y, x + w, y + r, r);
  ctx.lineTo(x + w, y + h - r); ctx.arcTo(x + w, y + h, x + w - r, y + h, r);
  ctx.lineTo(x + r, y + h); ctx.arcTo(x, y + h, x, y + h - r, r);
  ctx.lineTo(x, y + r); ctx.arcTo(x, y, x + r, y, r);
  ctx.closePath();
}

function drawLegend(chart) {
  var ctx = chart.ctx, a = chart.chartArea, ds = chart.data.datasets;
  var top = a.top + 12.3, cy = a.top + 32.7, base = a.top + 41;
  ctx.save();
  roundRect(ctx, 586, top, 806, 43.4, 7);
  ctx.fillStyle = 'rgba(255,255,255,0.8)';
  ctx.fill();
  ctx.strokeStyle = '#cccccc';
  ctx.lineWidth = 2;
  ctx.stroke();
  function dot(x, r, c) { ctx.beginPath(); ctx.arc(x, cy, r, 0, Math.PI * 2); ctx.fillStyle = c; ctx.fill(); }
  dot(620, 2.5, ds[2].pointBackgroundColor);
  dot(913, 2.8, ds[1].pointBackgroundColor);
  ctx.strokeStyle = ds[0].borderColor;
  ctx.lineWidth = 2.5;
  ctx.beginPath(); ctx.moveTo(1141, cy); ctx.lineTo(1192, cy); ctx.stroke();
  dot(1166, 5.5, ds[0].pointBackgroundColor);
  ctx.fillStyle = '#000';
  ctx.font = '24px "DejaVu Sans"';
  ctx.textAlign = 'left';
  ctx.textBaseline = 'alphabetic';
  ctx.fillText(ds[2].label, 663.7, base);
  ctx.fillText(ds[1].label, 958.7, base);
  ctx.fillText(ds[0].label, 1210, base);
  ctx.restore();
}

function makePanel(cfg) {
  var axisH = cfg.xlabels ? 150 : 20;
  var H = PAD + PLOT_H + axisH;
  var cv = document.createElement('canvas');
  cv.width = RIGHT; cv.height = H;
  cv.style.top = (cfg.top - PAD) + 'px';
  cv.style.width = RIGHT + 'px';
  cv.style.height = H + 'px';
  document.body.appendChild(cv);

  var decor = {
    id: 'decor',
    afterDatasetsDraw: function(chart) {
      var ctx = chart.ctx, a = chart.chartArea, xs = chart.scales.x;
      ctx.save();
      ctx.strokeStyle = '#000';
      ctx.lineWidth = 2.2;
      ctx.strokeRect(a.left, a.top, a.right - a.left, a.bottom - a.top);
      ctx.lineWidth = 1.6;
      ctx.beginPath();
      minorDays.forEach(function(d) {
        var px = xs.getPixelForValue(d);
        if (px < a.left - 1 || px > a.right + 1) return;
        ctx.moveTo(px, a.bottom); ctx.lineTo(px, a.bottom + 6.5);
      });
      ctx.stroke();
      ctx.fillStyle = '#000';
      var cy = (a.top + a.bottom) / 2;
      cfg.ylabel.forEach(function(parts, i) {
        ctx.save();
        ctx.translate(cfg.ylabelX + i * 37, cy);
        ctx.rotate(-Math.PI / 2);
        drawRich(ctx, parts, 30);
        ctx.restore();
      });
      if (cfg.xlabels) {
        ctx.font = '32px "DejaVu Sans"';
        ctx.textAlign = 'right';
        ctx.textBaseline = 'alphabetic';
        tickMonths.forEach(function(m, i) {
          var px = xs.getPixelForValue(day(m, 1));
          ctx.save();
          ctx.translate(px + 1, a.bottom + 47);
          ctx.rotate(-Math.PI / 6);
          ctx.fillText(tickLabels[i], 0, 0);
          ctx.restore();
        });
      }
      if (cfg.legend) drawLegend(chart);
      ctx.restore();
    }
  };

  var gridOpts = { color: GRID, lineWidth: 1.8, tickLength: 11, tickWidth: 2.2, tickColor: '#000', tickBorderDash: [] };
  new Chart(cv, {
    type: 'scatter',
    data: {
      datasets: [
        { label: 'Monthly mean', data: cfg.monthly, showLine: true, spanGaps: false, order: 0,
          borderColor: '#ff0000', borderWidth: 2.5, pointRadius: 5.5, pointBackgroundColor: '#ff0000', pointBorderWidth: 0 },
        { label: 'Daily mean', data: cfg.daily, order: 1,
          pointRadius: 2.8, pointBackgroundColor: '#0000ff', pointBorderWidth: 0 },
        { label: 'Measurements', data: cfg.meas, order: 2,
          pointRadius: 2.5, pointBackgroundColor: 'rgba(128,128,128,0.5)', pointBorderWidth: 0 }
      ]
    },
    options: {
      responsive: false,
      animation: false,
      events: [],
      devicePixelRatio: 1,
      layout: { padding: { top: PAD, left: 0, right: 0, bottom: 0 } },
      plugins: { legend: { display: false }, tooltip: { enabled: false } },
      scales: {
        x: {
          type: 'linear', min: 0, max: XMAX,
          afterBuildTicks: function(s) { s.ticks = tickMonths.map(function(m) { return { value: day(m, 1) }; }); },
          afterFit: function(s) { s.height = axisH; s.paddingLeft = 0; s.paddingRight = 0; },
          ticks: { display: false },
          grid: gridOpts,
          border: { display: false, dash: [2, 3.6] }
        },
        y: {
          min: cfg.min, max: cfg.max,
          afterBuildTicks: function(s) { s.ticks = cfg.ticks.map(function(v) { return { value: v }; }); },
          afterFit: function(s) { s.width = LEFT; s.paddingTop = 0; s.paddingBottom = 0; },
          ticks: { color: '#000', padding: 9, font: { family: 'DejaVu Sans', size: 32 }, callback: function(v) { return String(v); } },
          grid: gridOpts,
          border: { display: false, dash: [2, 3.6] }
        }
      }
    },
    plugins: [decor]
  });
}

var hchoLabel = [[['HCHO VCD', 0]], [['(10', 0], ['16', 1], [' molec cm', 0], [SUP, 1], [')', 0]]];
var chochoLabel = [[['CHOCHO VCD', 0]], [['(10', 0], ['14', 1], [' molec cm', 0], [SUP, 1], [')', 0]]];
var no2Label = [[['NO', 0], ['2', 2], [' VCD', 0]], [['(10', 0], ['15', 1], [' molec cm', 0], [SUP, 1], [')', 0]]];

var OFF = 1056;
[
  { top: 115, min: -0.085, max: 4.265, ticks: hchoTicks, ylabel: hchoLabel, ylabelX: 132, legend: true,
    monthly: monthly(months80, hcho80Monthly), daily: spread(obs80, hcho80Daily), meas: spread(obs80, hcho80Meas) },
  { top: 420, min: -1.45, max: 11.0, ticks: chochoTicks, ylabel: chochoLabel, ylabelX: 112,
    monthly: monthly(months80, chocho80Monthly), daily: spread(obs80, chocho80Daily), meas: spread(obs80, chocho80Meas) },
  { top: 725, min: -0.493, max: 1.754, ticks: no2Ticks, ylabel: no2Label, ylabelX: 133, xlabels: true,
    monthly: monthly(months80, no280Monthly), daily: spread(obs80, no280Daily), meas: spread(obs80, no280Meas) },
  { top: 115 + OFF, min: -0.085, max: 4.265, ticks: hchoTicks, ylabel: hchoLabel, ylabelX: 132, legend: true,
    monthly: monthly(months298, hcho298Monthly), daily: spread(obs298, hcho298Daily), meas: spread(obs298, hcho298Meas) },
  { top: 420 + OFF, min: -1.45, max: 11.0, ticks: chochoTicks, ylabel: chochoLabel, ylabelX: 112,
    monthly: monthly(months298, chocho298Monthly), daily: spread(obs298, chocho298Daily), meas: spread(obs298, chocho298Meas) },
  { top: 725 + OFF, min: -0.493, max: 1.754, ticks: no2Ticks, ylabel: no2Label, ylabelX: 133, xlabels: true,
    monthly: monthly(months298, no2298Monthly), daily: spread(obs298, no2298Daily), meas: spread(obs298, no2298Meas) }
].forEach(makePanel);

// headings: put the text baseline where it sits in the figure
function placeHead(id, x, baseline, centre, fitWidth) {
  var el = document.getElementById(id);
  if (fitWidth) {
    var fs = parseFloat(el.style.fontSize);
    el.style.fontSize = (fs * fitWidth / el.offsetWidth) + 'px';
  }
  var mark = el.querySelector('i');
  var b = mark.offsetTop + mark.offsetHeight;
  el.style.top = (baseline - b) + 'px';
  el.style.left = (centre ? x - el.offsetWidth / 2 : x) + 'px';
}
placeHead('sheet', 61, 6, false, 1258);
placeHead('t80', 960, 96.7, true);
placeHead('t298', 949, 96.7 + OFF, true);
</script>
</body>
</html>
